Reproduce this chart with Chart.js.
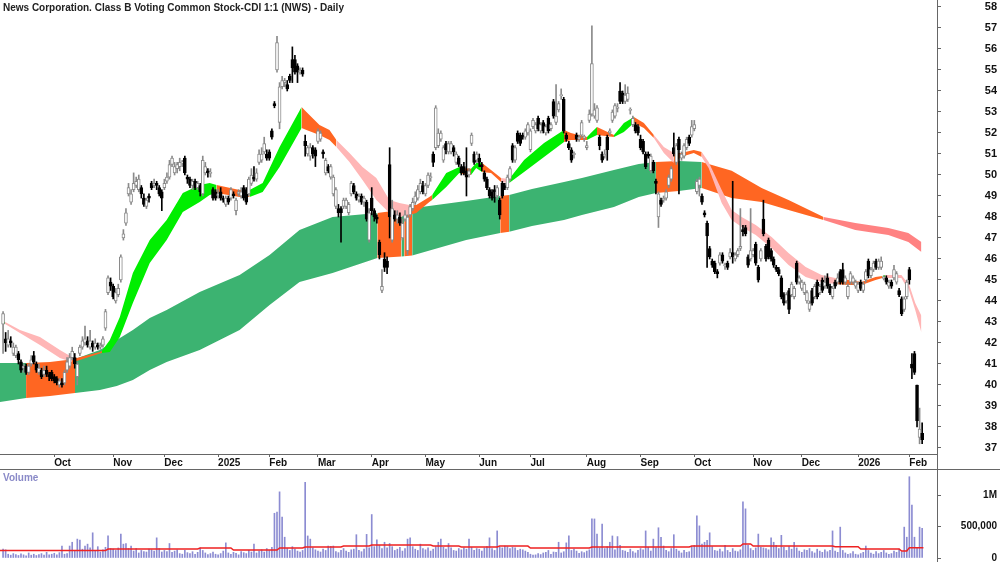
<!DOCTYPE html>
<html>
<head>
<meta charset="utf-8">
<script src="https://cdn.jsdelivr.net/npm/chart.js@4.4.1/dist/chart.umd.min.js"></script>
<style>
body { margin: 0; background: #fff; }
#wrap { position: relative; width: 1000px; height: 562px; overflow: hidden; font-family: "Liberation Sans", Arial, sans-serif; }
canvas { position: absolute; left: 0; }
#title { position: absolute; left: 3px; top: 2px; font-weight: bold; font-size: 10px; color: #222; white-space: nowrap; }
#vlabel { position: absolute; left: 3px; top: 472px; font-weight: bold; font-size: 10px; color: #8a8ac8; }
.ln { position: absolute; background: #666; }
</style>
</head>
<body>
<div id="wrap">
  <canvas id="price" width="1000" height="469" style="top:0"></canvas>
  <canvas id="vol" width="1000" height="93" style="top:469px"></canvas>
  <div id="title">News Corporation. Class B Voting Common Stock-CDI 1:1 (NWS) - Daily</div>
  <div id="vlabel">Volume</div>
  <div class="ln" style="left:937px;top:0;width:1px;height:562px"></div>
  <div class="ln" style="left:0;top:469px;width:1000px;height:1px"></div>
</div>
<script>
// daily bars, Sep 2024 .. Feb 2026 (one row per month)
const opens = [
  42.9,42.2,41.9,42.1,41.5,41.4,41.5,41.1,40.8,40.9,40.6,41.0,41.4,41.0,40.6,40.7,40.5,40.7,40.5,40.6,
  40.4,40.3,40.0,40.1,40.1,40.7,40.9,41.3,41.3,40.4,41.5,41.8,42.0,42.1,41.8,42.0,41.8,41.9,41.8,41.9,42.7,44.4,44.9,
  44.7,44.0,44.3,45.0,47.0,47.7,49.1,48.7,49.3,49.5,49.3,49.4,48.9,48.5,49.0,49.6,49.5,49.6,49.4,49.2,
  49.4,49.7,49.9,50.5,50.1,50.3,50.4,50.6,50.8,49.9,49.8,49.5,49.7,49.4,49.5,49.1,50.1,50.2,50.1,49.3,49.2,
  49.0,49.2,48.9,48.6,48.9,48.9,49.1,48.3,49.1,49.0,49.4,49.3,49.1,49.6,49.9,49.8,50.6,50.7,51.1,51.0,
  51.1,52.1,53.4,55.0,52.5,54.2,54.4,54.3,54.7,55.5,55.5,55.2,54.9,55.0,51.6,51.0,50.9,51.3,51.2,
  51.6,51.7,51.1,50.1,50.4,49.9,49.1,48.5,48.4,48.4,48.5,48.5,48.2,49.1,49.5,49.1,48.8,49.0,48.7,48.7,46.9,
  48.9,48.3,48.0,46.8,44.5,46.0,45.9,50.5,46.9,48.1,47.9,48.0,47.0,47.9,46.4,48.1,48.4,48.7,48.9,49.2,49.5,
  49.1,49.5,49.9,51.0,51.3,51.4,51.7,50.7,51.5,51.1,51.1,51.3,50.6,50.8,50.4,50.4,50.2,50.0,51.5,51.0,50.7,
  50.8,50.5,50.1,49.8,49.3,49.2,49.3,49.0,48.8,49.6,49.5,49.4,49.8,51.4,50.7,52.0,51.9,51.9,51.8,52.0,
  51.2,52.3,52.1,52.7,52.1,52.5,52.0,52.7,52.2,53.5,52.5,53.1,53.8,53.6,51.9,51.5,51.2,51.0,51.9,51.7,51.9,51.8,
  51.3,52.6,52.9,52.8,52.6,51.8,51.0,50.9,51.8,52.0,52.6,52.8,53.2,54.0,53.9,53.5,53.6,53.1,52.4,52.4,52.3,
  51.7,51.6,51.0,51.0,50.2,50.6,49.7,48.0,48.8,48.8,48.9,49.5,49.8,51.3,50.6,51.7,50.8,50.9,51.3,51.8,51.9,
  52.2,49.2,49.5,49.0,48.2,47.7,46.5,45.9,45.8,45.4,45.8,46.2,45.7,45.8,46.1,46.3,46.0,46.2,46.5,47.4,47.5,46.1,46.0,
  46.2,46.7,45.6,46.0,47.9,46.6,46.9,46.4,46.0,45.6,45.5,45.1,44.3,44.0,44.5,44.3,44.2,45.8,44.9,
  44.6,44.4,44.0,43.6,44.5,44.2,44.9,44.4,45.0,44.7,45.1,44.7,44.2,44.9,44.9,45.4,45.5,44.9,44.2,44.9,44.9,44.7,
  44.5,44.9,44.5,45.0,45.9,45.2,45.5,45.9,45.6,45.6,45.1,45.1,44.7,44.9,45.1,44.9,44.5,44.1,43.6,44.2,
  45.5,41.0,41.5,40.0,37.5,37.7
];
const highs = [
  43.5,42.5,42.6,42.3,42.0,41.9,41.6,41.2,41.0,41.0,41.0,41.4,41.6,41.1,41.0,40.8,40.9,40.9,40.6,40.7,
  40.5,40.4,40.3,40.3,40.7,41.3,41.5,41.8,41.5,41.1,41.9,42.3,42.8,42.3,42.6,42.1,42.2,42.0,42.0,42.3,43.6,45.2,45.1,
  44.8,44.6,44.8,46.2,47.4,48.4,49.6,49.3,50.1,49.9,50.0,49.5,49.1,48.9,49.1,49.7,49.8,49.7,49.5,49.3,
  49.8,50.1,50.7,50.9,50.6,50.6,50.8,50.7,50.9,50.0,49.9,49.8,49.8,49.7,49.6,50.9,50.6,50.3,50.3,49.4,49.3,
  49.3,49.4,49.0,49.0,49.0,49.4,49.2,48.9,49.3,49.4,49.5,49.4,49.9,50.3,50.4,50.3,51.2,51.3,51.8,51.2,
  51.2,52.2,53.5,56.6,54.4,54.7,54.6,54.5,54.8,56.1,55.7,55.3,55.1,55.1,51.9,51.4,51.5,51.4,51.3,
  52.2,52.1,51.2,50.8,50.5,50.5,50.0,49.4,48.6,48.5,48.9,48.9,48.7,49.7,49.6,49.2,49.1,49.1,49.0,48.8,48.4,
  49.4,48.4,48.1,46.9,45.5,46.3,46.1,51.3,48.8,48.3,48.3,48.2,47.9,48.3,48.1,48.6,48.9,49.2,49.5,49.8,49.7,
  49.6,50.1,50.1,51.1,53.3,52.2,52.1,51.4,51.6,51.6,51.6,51.4,51.1,50.9,50.5,50.6,51.3,50.3,52.0,51.1,51.1,
  51.0,50.6,50.2,49.9,49.4,49.3,49.5,49.5,48.9,49.7,49.6,50.0,50.4,51.5,51.4,52.1,52.0,52.0,52.2,52.5,
  52.2,52.7,52.5,52.8,52.5,52.6,52.4,52.8,52.5,53.6,54.3,53.5,54.1,53.7,52.0,51.6,51.3,51.1,52.0,51.9,52.6,51.9,
  51.6,53.1,57.1,53.4,53.3,51.9,51.1,51.2,51.9,52.2,53.1,53.4,53.4,54.4,54.0,54.3,54.2,53.2,52.8,52.5,52.4,
  51.9,51.7,51.1,51.1,51.0,50.7,49.8,49.2,48.9,49.0,49.3,50.0,50.4,52.0,51.5,51.8,51.1,51.5,51.8,51.9,52.6,
  52.6,49.8,49.9,49.1,48.3,47.8,46.6,46.0,45.9,45.5,46.3,46.3,45.8,45.9,46.5,49.7,46.3,46.5,48.4,47.6,47.6,46.2,48.4,
  46.5,46.8,45.7,46.5,48.8,46.7,47.0,46.5,46.1,45.7,45.6,45.2,44.4,44.4,44.6,44.9,44.7,45.9,45.2,
  45.0,44.9,44.5,44.0,44.6,44.8,45.0,44.8,45.1,45.2,45.3,44.8,44.7,45.0,45.3,45.5,45.8,45.2,44.8,45.4,45.2,45.0,
  44.9,45.0,44.9,45.5,46.0,45.6,45.9,46.0,46.0,46.1,45.2,45.2,45.0,45.0,45.7,45.4,44.6,44.2,44.2,45.0,
  45.6,41.5,41.6,40.0,38.9,38.2
];
const lows = [
  41.5,41.6,41.8,41.8,41.4,41.3,41.0,40.6,40.6,40.5,40.5,40.9,41.0,40.6,40.5,40.3,40.4,40.4,40.2,40.2,
  40.1,40.0,39.9,39.9,40.0,40.6,40.8,41.2,40.8,40.0,41.4,41.7,41.9,41.8,41.7,41.6,41.7,41.7,41.7,41.8,42.6,44.3,44.5,
  44.1,43.9,44.2,44.9,46.9,47.6,49.0,48.6,49.2,49.4,49.2,48.9,48.5,48.4,48.7,49.3,49.4,49.3,49.0,48.3,
  49.3,49.6,49.8,50.4,50.0,50.1,50.2,50.4,50.0,49.6,49.4,49.3,49.3,49.3,49.0,49.0,50.0,49.9,49.9,48.8,48.8,
  48.9,48.8,48.7,48.5,48.6,48.8,48.9,48.1,49.0,48.9,48.8,48.6,49.0,49.5,49.7,49.7,50.5,50.6,51.0,50.7,
  50.7,51.7,53.2,54.9,52.2,54.1,54.2,54.0,54.4,54.4,54.8,54.4,54.8,54.7,50.9,50.9,50.7,50.8,50.4,
  51.5,51.6,50.8,50.0,50.1,49.8,49.0,48.4,48.0,46.8,48.4,48.4,48.1,49.0,49.1,48.8,48.7,48.6,48.5,47.8,46.8,
  48.1,47.8,47.7,46.0,44.4,45.4,45.3,47.0,46.8,47.8,47.7,47.6,46.9,47.8,46.2,48.0,48.3,48.6,48.8,49.1,49.1,
  49.0,49.4,49.7,50.4,51.2,51.3,51.6,50.6,51.0,51.0,51.0,50.9,50.5,50.4,50.0,50.0,49.0,49.9,51.4,50.5,50.6,
  50.4,50.2,49.7,49.3,48.9,48.8,48.7,48.9,47.9,48.9,49.3,49.3,49.7,50.6,50.6,51.5,51.4,51.7,51.7,51.9,
  51.1,52.2,52.0,52.1,52.0,52.0,51.9,52.0,52.1,52.7,52.4,53.0,53.6,52.0,51.6,51.2,50.6,50.8,51.6,51.6,51.8,51.6,
  51.2,52.5,52.8,52.7,52.5,51.2,50.6,50.8,50.7,51.9,52.5,52.7,53.0,53.4,53.4,53.4,53.5,52.9,52.3,52.0,51.9,
  51.2,51.0,50.3,50.8,50.1,50.1,49.1,47.5,48.5,48.7,48.8,49.4,49.7,50.9,50.5,49.1,50.7,50.8,51.2,51.4,51.8,
  52.1,49.1,49.0,48.6,48.0,45.6,46.0,45.6,45.3,45.1,45.7,45.8,45.5,45.5,46.0,45.8,45.9,46.1,46.4,47.1,47.1,45.6,45.9,
  46.1,45.7,44.9,45.9,47.1,45.9,46.0,45.9,45.6,45.4,45.2,44.1,43.8,43.9,43.4,44.2,44.1,44.8,44.8,
  44.5,44.3,43.9,43.5,43.8,44.1,44.1,44.3,44.4,44.6,44.6,44.3,44.1,44.6,44.8,44.8,44.8,44.8,44.1,44.8,44.8,44.6,
  44.4,44.5,44.4,44.9,45.1,45.1,45.4,45.5,45.5,45.5,45.0,44.8,44.6,44.6,45.0,44.8,44.2,43.3,43.5,44.1,
  44.8,40.3,40.5,38.0,37.2,37.2
];
const closes = [
  43.4,42.0,42.2,42.0,41.8,41.8,41.2,40.7,40.9,40.6,40.9,41.2,41.1,40.7,40.8,40.4,40.7,40.5,40.4,40.3,
  40.2,40.1,40.2,40.0,40.6,41.1,41.3,41.6,41.0,41.0,41.8,42.1,42.2,41.9,42.1,41.8,42.0,41.8,41.9,42.2,43.5,45.1,44.7,
  44.2,44.4,44.6,46.1,47.2,48.2,49.4,49.1,49.6,49.7,49.8,49.1,48.6,48.8,48.9,49.4,49.6,49.5,49.1,48.9,
  49.6,49.9,50.5,50.8,50.4,50.5,50.6,50.6,50.1,49.8,49.5,49.7,49.4,49.6,49.2,50.7,50.4,50.1,50.1,48.9,48.9,
  49.1,48.9,48.8,48.9,48.7,49.3,49.0,48.8,49.2,49.2,48.9,48.7,49.8,50.0,49.8,50.1,51.0,51.0,51.5,50.8,
  50.8,51.8,53.3,56.3,54.2,54.5,54.5,54.1,54.5,55.1,54.9,54.9,55.0,54.8,51.4,51.3,51.3,51.0,50.9,
  52.1,52.0,51.0,50.7,50.2,50.4,49.9,49.3,48.2,48.2,48.8,48.8,48.6,49.6,49.2,48.9,49.0,48.7,48.9,47.9,48.2,
  48.3,48.0,47.9,46.2,44.7,45.6,45.6,48.0,48.4,47.9,48.1,47.7,47.7,48.1,48.0,48.5,48.7,49.0,49.3,49.6,49.2,
  49.5,50.0,49.9,50.6,53.2,52.0,52.0,51.3,51.2,51.5,51.5,51.1,51.0,50.5,50.1,50.1,49.9,50.2,51.9,50.6,51.0,
  50.6,50.4,49.8,49.4,49.0,48.9,49.2,49.4,48.1,49.0,49.4,49.9,50.3,50.7,51.3,51.6,51.5,51.8,52.1,52.4,
  52.1,52.6,52.4,52.2,52.4,52.1,52.3,52.1,52.4,52.8,52.8,53.4,53.8,52.1,51.7,51.3,50.7,51.0,51.7,51.8,52.5,51.8,
  51.4,52.9,55.3,53.1,53.2,51.4,50.7,51.0,51.2,52.1,53.0,53.3,53.2,53.5,53.5,53.8,53.9,53.1,52.7,52.1,52.0,
  51.3,51.1,50.4,50.9,50.9,50.2,49.6,49.1,48.6,48.9,49.2,49.9,50.3,51.0,51.4,51.2,51.0,51.4,51.7,51.5,52.3,
  52.4,49.7,49.8,48.7,48.1,47.1,46.1,45.7,45.4,45.3,46.2,45.9,45.7,45.6,46.3,46.1,46.2,46.4,46.6,47.3,47.2,45.7,46.4,
  46.4,45.8,45.0,46.4,47.2,46.0,46.1,46.0,45.7,45.5,45.3,44.2,43.9,44.3,43.6,44.8,44.6,44.9,45.1,
  44.9,44.8,44.4,43.9,43.9,44.7,44.2,44.7,44.5,44.9,44.7,44.4,44.6,44.7,45.1,44.9,44.9,45.1,44.7,45.3,45.1,44.9,
  44.8,44.6,44.8,45.4,45.2,45.5,45.8,45.6,45.9,45.9,45.1,44.9,44.9,44.7,45.5,45.3,44.3,43.4,44.1,44.9,
  45.0,40.8,40.6,38.3,37.9,37.4
];
// volume in thousands of shares
const volumesK = [
  143,130,60,45,70,55,40,65,50,35,80,45,60,40,55,70,45,90,50,60,
  75,50,85,190,60,70,190,250,120,300,285,140,190,220,160,400,110,180,95,130,170,350,150,
  140,120,160,380,220,230,150,190,110,150,80,120,100,95,140,130,110,320,150,95,
  120,100,230,90,110,130,70,60,120,85,70,100,60,90,160,120,80,55,70,95,60,
  50,70,110,240,80,60,90,75,50,100,85,70,120,95,220,80,110,130,95,150,
  120,170,710,730,1050,650,330,150,120,180,140,110,95,120,1200,350,300,160,130,
  110,95,140,120,190,185,190,100,85,120,150,110,90,130,140,370,120,100,140,375,160,
  690,180,290,200,150,250,160,230,180,120,140,170,110,150,300,320,180,140,120,220,150,
  130,160,110,140,180,250,300,170,140,230,160,120,110,150,130,160,140,300,170,120,150,
  140,110,160,180,320,150,120,430,170,160,190,180,150,170,160,120,140,130,110,90,
  60,45,50,70,55,80,90,120,60,95,90,250,80,100,240,350,120,140,110,75,100,85,
  110,130,620,620,380,160,540,150,180,250,350,130,340,200,120,110,90,140,100,80,120,
  150,130,430,170,110,300,160,480,330,190,120,100,150,370,140,110,80,120,90,100,180,
  200,670,510,220,250,280,400,180,120,110,140,100,200,120,90,150,110,100,130,890,780,200,150,
  120,160,380,170,160,150,130,320,250,200,150,360,170,120,180,140,250,160,110,
  90,130,120,150,100,80,140,110,90,130,100,120,430,110,90,490,120,80,60,70,100,60,
  50,70,90,190,120,80,60,100,70,90,120,80,60,70,110,90,143,100,490,330,
  1290,840,330,160,490,470
];
// volume average line (bar position, thousands)
const volAvgX = [-1.2,40,41,76,77,89,90,107,108,117,118,132,133,143,144,167,168,178,179,193,194,205,206,229,230,268,269,288,289,292,293,324,325,334,335,350,351,353,354,359.5];
const volAvgK = [118,118,143,143,159,159,127,127,159,159,175,175,190,190,206,206,190,190,175,175,190,190,159,159,175,175,190,190,222,222,190,190,180,180,143,143,111,111,164,164];

// short-term average ribbon: position, upper, lower, colour code of the following stretch
const shortX   = [-0.4,0.8,6.6,14.4,22.2,26.9,28.8,37.8,38.6,41.7,45.6,50.7,57.3,63.9,70.2,76.8,80.7,83.4,92.4,96.3,101.4,108,116.6,118.5,123.6,127.5,130.2,135.3,140.4,145.8,150.9,154.8,158.7,161.4,166.5,167.6,173.1,178.2,179.3,182.8,184.8,187.1,190.6,194.5,197.7,203.5,211.3,219.1,221.8,228.1,229.6,232,238.6,242.5,246.4,250.3,254.2,258.1,262,264.7,269.8,272.9,275.6,280.7,284.6,288.5,294,300.2,306.8,313.5,319.7,325.1,330.2,335.3,340.8,343.5,344.6,350.9,352.4,353.6,356.3,358.7];
const shortTop = [43.05,43.0,42.62,42.29,41.67,41.33,41.29,41.57,41.62,42.14,43.24,45.33,46.9,47.86,49.14,49.52,49.62,49.52,49.29,49.29,49.62,51.33,53.24,53.0,52.38,52.14,51.67,51.05,50.38,49.86,48.81,48.67,48.57,48.57,48.95,49.05,50.1,50.38,50.33,50.3,50.57,50.57,50.24,49.86,49.81,50.71,51.52,52.14,52.0,51.81,52.0,52.29,51.9,52.48,52.76,52.48,51.9,51.33,51.05,51.05,51.19,51.1,50.62,49.29,48.33,48.0,47.62,47.05,46.29,45.62,45.24,45.1,45.0,44.9,45.14,45.19,45.24,45.24,45.0,44.9,43.9,43.3];
const shortBot = [42.95,42.9,42.48,41.9,41.29,41.1,41.14,41.5,41.52,41.57,42.29,43.9,45.81,46.9,48.24,48.71,49.05,49.14,48.95,48.95,49.19,50.38,52.24,52.14,51.9,51.67,51.33,50.62,49.76,48.81,48.19,48.0,48.1,48.19,48.71,48.81,49.43,50.1,50.05,50.0,50.33,50.14,50.1,49.67,49.62,50.14,50.86,51.57,51.67,51.67,51.76,51.9,51.81,52.05,52.48,52.24,51.76,51.05,50.57,50.86,51.05,50.86,50.33,48.67,47.86,47.52,47.14,46.52,45.71,45.14,44.9,44.81,44.76,44.76,45.0,45.1,45.1,45.1,44.76,44.62,43.57,42.5];
const shortCode = ['G','P','P','P','P','O','O','O','G','G','G','G','G','G','G','G','G','O','O','G','G','G','O','O','O','O','P','P','P','P','P','P','O','O','O','G','G','G','O','G','G','O','O','P','G','G','G','O','O','G','G','O','G','G','O','O','P','P','O','O','O','P','P','P','P','P','P','P','P','P','P','O','O','O','O','G','P','P','P','P','P','P'];

// long-term average ribbon
const longX   = [-1.2,9.0,18.3,28.1,37.8,44.4,50.7,57.3,63.9,76.8,92.4,104.1,115.8,128.7,146.2,155.6,156.7,159.8,180.9,194.2,197.7,206.6,219.1,226.1,238.6,248.3,255.0,263.9,272.9,284.6,296.3,306.8,320.5,332.9,345.8,353.6,358.7];
const longTop = [41.05,41.05,41.1,41.24,41.67,42.14,42.62,43.19,43.57,44.43,45.24,46.19,47.38,48.0,48.19,48.35,48.37,48.42,48.76,49.0,49.05,49.33,49.67,49.86,50.24,50.52,50.62,50.67,50.62,50.2,49.38,48.81,48.0,47.71,47.48,47.24,46.81];
const longBot = [39.19,39.38,39.48,39.62,39.76,39.95,40.24,40.71,41.10,41.67,42.62,43.81,44.90,45.33,46.05,46.12,46.13,46.17,46.90,47.24,47.3,47.57,47.86,48.10,48.48,48.95,49.14,49.24,49.38,48.9,48.71,48.33,47.86,47.38,47.14,46.81,46.33];
const longCode = ['L','O','O','L','L','L','L','L','L','L','L','L','L','L','O','L','O','L','L','O','L','L','L','L','L','L','O','L','O','O','O','O','S','S','S','S','S'];

const monthStarts = [20,43,63,84,104,123,144,165,186,206,228,249,270,293,312,334,354];
const monthLabels = ['Oct','Nov','Dec','2025','Feb','Mar','Apr','May','Jun','Jul','Aug','Sep','Oct','Nov','Dec','2026','Feb'];
const priceTicks = [37,38,39,40,41,42,43,44,45,46,47,48,49,50,51,52,53,54,55,56,57,58];
const volTicks = [0, 500000, 1000000];
const volTickLabels = ['0', '500,000', '1M'];

const FONT = '"Liberation Sans", Arial, sans-serif';
const X_MIN = -1.2, X_MAX = 364.8;
const BAND = { G: 'rgb(0,238,0)', O: '#ff6622', P: '#ffb6b6', L: '#3cb371', S: '#ff8282' };
const AXIS = '#666';

const isUp = closes.map((c, i) => c >= opens[i]);
const wickData = highs.map((h, i) => ({ x: i, y: [lows[i], h] }));
const bodyData = opens.map((o, i) => {
  let a = Math.min(o, closes[i]), b = Math.max(o, closes[i]);
  if (b - a < 0.06) { const m = (a + b) / 2; a = m - 0.03; b = m + 0.03; }
  return { x: i, y: [a, b] };
});

function band(xs, top, bot, codes, order) {
  return [
    { type: 'line', data: xs.map((x, i) => ({ x, y: top[i] })), borderWidth: 0, pointRadius: 0,
      fill: '+1', order, backgroundColor: BAND[codes[0]],
      segment: { backgroundColor: c => BAND[codes[c.p0DataIndex]] } },
    { type: 'line', data: xs.map((x, i) => ({ x, y: bot[i] })), borderWidth: 0, pointRadius: 0,
      fill: false, order }
  ];
}

function noPad(s) { s.paddingLeft = 0; s.paddingRight = 0; s.paddingTop = 0; s.paddingBottom = 0; }

new Chart(document.getElementById('price'), {
  type: 'bar',
  data: {
    datasets: [
      ...band(longX, longTop, longBot, longCode, 10),
      ...band(shortX, shortTop, shortBot, shortCode, 5),
      { type: 'bar', data: wickData, grouped: false, barThickness: 1, order: 1,
        backgroundColor: isUp.map(u => u ? '#8a8a8a' : '#000') },
      { type: 'bar', data: bodyData, grouped: false, barThickness: 3, order: 0,
        borderWidth: 1, borderSkipped: false,
        backgroundColor: isUp.map(u => u ? '#fff' : '#000'),
        borderColor: isUp.map(u => u ? '#8a8a8a' : '#000') }
    ]
  },
  options: {
    responsive: false, animation: false, events: [],
    layout: { padding: { left: 0, right: 3, top: 0, bottom: 0 } },
    plugins: { legend: { display: false }, tooltip: { enabled: false } },
    scales: {
      x: {
        type: 'linear', min: X_MIN, max: X_MAX, offset: false,
        grid: { drawOnChartArea: false, tickLength: 3, color: AXIS, offset: false },
        border: { display: true, color: AXIS },
        ticks: { autoSkip: false, maxRotation: 0, align: 'start', padding: 0, color: '#111',
          font: { family: FONT, size: 10, weight: 'bold' },
          callback: (v, i) => monthLabels[i] },
        afterBuildTicks: s => { s.ticks = monthStarts.map(v => ({ value: v })); },
        afterFit: s => { s.height = 15; noPad(s); }
      },
      y: {
        position: 'right', min: 36.714, max: 58.333,
        grid: { drawOnChartArea: false, tickLength: 4, color: AXIS },
        border: { display: true, color: AXIS },
        ticks: { crossAlign: 'far', color: '#111', font: { family: FONT, size: 11, weight: 'bold' },
          callback: v => String(v) },
        afterBuildTicks: s => { s.ticks = priceTicks.map(v => ({ value: v })); },
        afterFit: s => { s.width = 60; noPad(s); }
      }
    }
  }
});

new Chart(document.getElementById('vol'), {
  type: 'bar',
  data: {
    datasets: [
      { type: 'line', data: volAvgX.map((x, i) => ({ x, y: volAvgK[i] * 1000 })),
        borderColor: '#ee2222', borderWidth: 1.5, pointRadius: 0, fill: false, order: 0 },
      { type: 'bar', data: volumesK.map((v, i) => ({ x: i, y: v * 1000 })), grouped: false,
        barThickness: 1, backgroundColor: '#8c8cd2', order: 1 }
    ]
  },
  options: {
    responsive: false, animation: false, events: [],
    layout: { padding: { left: 0, right: 3, top: 0, bottom: 0 } },
    plugins: { legend: { display: false }, tooltip: { enabled: false } },
    scales: {
      x: { type: 'linear', min: X_MIN, max: X_MAX, offset: false, display: false },
      y: {
        position: 'right', min: -63492, max: 1412700,
        grid: { drawOnChartArea: false, tickLength: 4, color: AXIS },
        border: { display: true, color: AXIS },
        ticks: { crossAlign: 'far', color: '#111', font: { family: FONT, size: 10, weight: 'bold' },
          callback: (v, i) => volTickLabels[i] },
        afterBuildTicks: s => { s.ticks = volTicks.map(v => ({ value: v })); },
        afterFit: s => { s.width = 60; noPad(s); }
      }
    }
  }
});
</script>
</body>
</html>
